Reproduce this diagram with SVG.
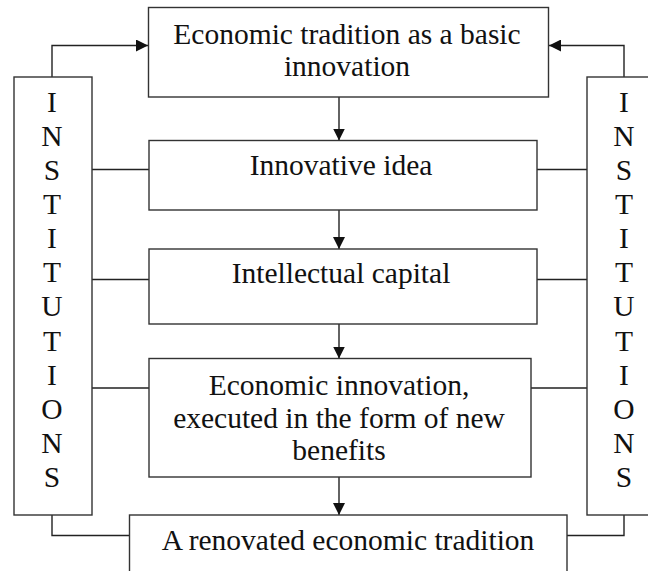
<svg xmlns="http://www.w3.org/2000/svg" width="648" height="571" viewBox="0 0 648 571" font-family="'Liberation Serif', 'DejaVu Serif', serif">
<style>
.box{fill:#fff;stroke:#333;stroke-width:1.4}
.ln{fill:none;stroke:#222;stroke-width:1.4}
.t{font-family:'Liberation Serif','DejaVu Serif',serif;font-size:29.5px;fill:#111;text-anchor:middle}
</style>
<defs>
<marker id="ah" viewBox="0 0 12 12" refX="12" refY="6" markerWidth="12" markerHeight="12" markerUnits="userSpaceOnUse" orient="auto">
<path d="M0,0 L12,6 L0,12 Z" fill="#111"/>
</marker>
</defs>
<rect width="648" height="571" fill="#fff"/>
<g id="connectors">
<path class="ln" d="M52,77 V45.5 H148" marker-end="url(#ah)"/>
<path class="ln" d="M624,77 V45.5 H549" marker-end="url(#ah)"/>
<path class="ln" d="M339,97 V140.5" marker-end="url(#ah)"/>
<path class="ln" d="M339,210 V249" marker-end="url(#ah)"/>
<path class="ln" d="M339,324 V358.5" marker-end="url(#ah)"/>
<path class="ln" d="M339,477 V515" marker-end="url(#ah)"/>
<path class="ln" d="M92,169.5 H149 M92,279.5 H149 M92,388 H149"/>
<path class="ln" d="M537,169.5 H587 M537,279.5 H587 M531,388 H587"/>
<path class="ln" d="M52,515 V535.5 H129.5"/>
<path class="ln" d="M624,515 V535.5 H567"/>
</g>
<g id="n-tradition">
<rect class="box" x="148.5" y="7.5" width="400" height="89.5"/>
<text class="t" x="347" y="44">Economic tradition as a basic</text>
<text class="t" x="347" y="76">innovation</text>
</g>
<g id="n-idea">
<rect class="box" x="149" y="140.5" width="388" height="69.5"/>
<text class="t" x="341" y="175">Innovative idea</text>
</g>
<g id="n-capital">
<rect class="box" x="149" y="249" width="388" height="75"/>
<text class="t" x="341" y="283">Intellectual capital</text>
</g>
<g id="n-innovation">
<rect class="box" x="149" y="358.5" width="382" height="118.5"/>
<text class="t" x="339" y="395">Economic innovation,</text>
<text class="t" x="339" y="428">executed in the form of new</text>
<text class="t" x="339" y="460">benefits</text>
</g>
<g id="n-renovated">
<rect class="box" x="129.5" y="515" width="437.5" height="70"/>
<text class="t" x="348" y="550">A renovated economic tradition</text>
</g>
<g id="n-inst-left">
<rect class="box" x="14" y="77" width="78" height="438"/>
<text class="t" x="52" y="112">I</text>
<text class="t" x="52" y="146">N</text>
<text class="t" x="52" y="180">S</text>
<text class="t" x="52" y="214">T</text>
<text class="t" x="52" y="248">I</text>
<text class="t" x="52" y="282">T</text>
<text class="t" x="52" y="316">U</text>
<text class="t" x="52" y="351">T</text>
<text class="t" x="52" y="385">I</text>
<text class="t" x="52" y="419">O</text>
<text class="t" x="52" y="453">N</text>
<text class="t" x="52" y="487">S</text>
</g>
<g id="n-inst-right">
<rect class="box" x="587" y="77" width="78" height="438"/>
<text class="t" x="624" y="112">I</text>
<text class="t" x="624" y="146">N</text>
<text class="t" x="624" y="180">S</text>
<text class="t" x="624" y="214">T</text>
<text class="t" x="624" y="248">I</text>
<text class="t" x="624" y="282">T</text>
<text class="t" x="624" y="316">U</text>
<text class="t" x="624" y="351">T</text>
<text class="t" x="624" y="385">I</text>
<text class="t" x="624" y="419">O</text>
<text class="t" x="624" y="453">N</text>
<text class="t" x="624" y="487">S</text>
</g>
</svg>
